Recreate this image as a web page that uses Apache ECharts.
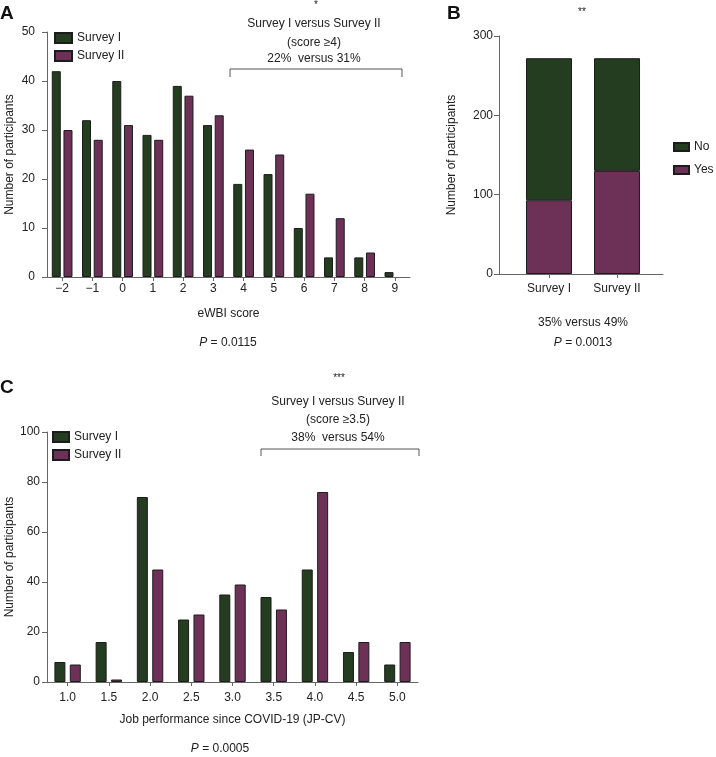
<!DOCTYPE html>
<html>
<head>
<meta charset="utf-8">
<script src="https://cdn.jsdelivr.net/npm/echarts@6/dist/echarts.min.js"></script>
<style>
html,body{margin:0;padding:0;background:#fff;}
#c{width:716px;height:757px;}
</style>
</head>
<body>
<div id="c"></div>
<script>
// ---- Data ----
const scoreCats = ['−2','−1','0','1','2','3','4','5','6','7','8','9'];
const eWBI_survey1 = [42,32,40,29,39,31,19,21,10,4,4,1];
const eWBI_survey2 = [30,28,31,28,37,33,26,25,17,12,5,null];

const surveyCats = ['Survey I','Survey II'];
const affectedYes = [93,130];
const affectedNo = [179,142];

const jpCats = ['1.0','1.5','2.0','2.5','3.0','3.5','4.0','4.5','5.0'];
const jp_survey1 = [8,16,74,25,35,34,45,12,7];
const jp_survey2 = [7,1,45,27,39,29,76,16,16];

const yTicksA = [0,10,20,30,40,50];
const yTicksB = [0,100,200,300];
const yTicksC = [0,20,40,60,80,100];

// ---- Style ----
const GREEN = '#243c1f';
const PURPLE = '#6d3158';
const EDGE = '#1c1c1c';
const AXIS = '#666';
const TXT = '#222';
const FONT = '"Liberation Sans", Arial, sans-serif';

const chart = echarts.init(document.getElementById('c'), null, {renderer:'canvas'});

function yAx(gi, ticks, nameGap, labelMargin) {
  return {
    type:'value', gridIndex:gi, min:ticks[0], max:ticks[ticks.length-1],
    interval: ticks[1]-ticks[0],
    name:'Number of participants', nameLocation:'middle', nameGap:nameGap,
    nameMoveOverlap:false,
    nameTextStyle:{color:TXT, fontSize:12, fontFamily:FONT},
    axisLine:{show:true, onZero:false, lineStyle:{color:AXIS, width:1}},
    axisTick:{show:true, length:5, lineStyle:{color:AXIS}},
    axisLabel:{color:TXT, fontSize:12, fontFamily:FONT, margin:labelMargin},
    splitLine:{show:false}
  };
}
function xCat(gi, cats, name, nameGap, labelMargin) {
  return {
    type:'category', gridIndex:gi, data:cats,
    name:name, nameLocation:'middle', nameGap:nameGap, nameMoveOverlap:false,
    nameTextStyle:{color:TXT, fontSize:12, fontFamily:FONT},
    axisLine:{show:true, lineStyle:{color:AXIS, width:1}},
    axisTick:{show:true, alignWithLabel:true, length:4, lineStyle:{color:AXIS}},
    axisLabel:{color:TXT, fontSize:12, fontFamily:FONT, margin:labelMargin},
    splitLine:{show:false}
  };
}
function barItem(c){ return {color:c, borderColor:EDGE, borderWidth:1}; }

function pText(x, y, val) {
  return {
    type:'text', x:x, y:y,
    style:{
      text:'{i|P} = ' + val,
      textAlign:'center', textVerticalAlign:'middle',
      fill:TXT, font:'12px ' + FONT,
      rich:{ i:{fontStyle:'italic', fontSize:12, fontFamily:FONT, fill:TXT} }
    }
  };
}
function txt(x, y, s, size, bold) {
  return {
    type:'text', x:x, y:y,
    style:{text:s, textAlign:'center', textVerticalAlign:'middle', fill:TXT,
      font:(bold?'bold ':'') + size + 'px ' + FONT}
  };
}
function panelLetter(x, y, s) {
  return {type:'text', x:x, y:y, style:{text:s, textAlign:'left', textVerticalAlign:'top', fill:'#111', font:'bold 19px ' + FONT}};
}
function bracket(x1, x2, yTop, yBot) {
  return {type:'polyline', shape:{points:[[x1,yBot],[x1,yTop],[x2,yTop],[x2,yBot]]},
    style:{stroke:'#555', lineWidth:1, fill:null}};
}

const option = {
  backgroundColor:'#fff',
  animation:false,
  textStyle:{fontFamily:FONT},
  grid:[
    {left:47, right:306, top:32, bottom:480, outerBoundsMode:'none', containLabel:false},
    {left:499, right:53, top:36, bottom:483, outerBoundsMode:'none', containLabel:false},
    {left:47, right:298, top:432, bottom:75, outerBoundsMode:'none', containLabel:false}
  ],
  xAxis:[
    xCat(0, scoreCats, 'eWBI score', 31, 6),
    {
      type:'value', gridIndex:1, min:-0.735, max:1.676,
      axisLine:{show:true, onZero:false, lineStyle:{color:AXIS, width:1}},
      axisTick:{show:true, length:4, customValues:[0,1], lineStyle:{color:AXIS}},
      axisLabel:{show:true, customValues:[0,1], color:TXT, fontSize:12, fontFamily:FONT, margin:9,
        formatter:function(v){ return surveyCats[Math.round(v)] || ''; }},
      splitLine:{show:false}
    },
    xCat(2, jpCats, 'Job performance since COVID-19 (JP-CV)', 32, 10)
  ],
  yAxis:[
    yAx(0, yTicksA, 31, 12),
    yAx(1, yTicksB, 41, 6),
    yAx(2, yTicksC, 31, 7)
  ],
  legend:[
    {data:['Survey I','Survey II'], left:54, top:32, orient:'vertical', padding:0,
     itemWidth:17, itemHeight:10, itemGap:6, icon:'rect',
     textStyle:{color:TXT, fontSize:12, fontFamily:FONT}, selectedMode:false},
    {data:['No','Yes'], left:673, top:141, orient:'vertical', padding:0,
     itemWidth:15, itemHeight:8, itemGap:11, icon:'rect',
     textStyle:{color:TXT, fontSize:12, fontFamily:FONT}, selectedMode:false},
    {data:['Survey I','Survey II'], left:52, top:431, orient:'vertical', padding:0,
     itemWidth:16, itemHeight:10, itemGap:6, icon:'rect',
     textStyle:{color:TXT, fontSize:12, fontFamily:FONT}, selectedMode:false}
  ],
  series:[
    {name:'Survey I', type:'bar', xAxisIndex:0, yAxisIndex:0, data:eWBI_survey1,
     barWidth:9, barGap:'30%', itemStyle:barItem(GREEN)},
    {name:'Survey II', type:'bar', xAxisIndex:0, yAxisIndex:0, data:eWBI_survey2,
     barWidth:9, barGap:'30%', itemStyle:barItem(PURPLE)},
    {name:'Yes', type:'bar', xAxisIndex:1, yAxisIndex:1, stack:'b',
     encode:{x:1, y:0},
     data:affectedYes.map(function(v,i){return [v,i];}),
     barWidth:46, itemStyle:barItem(PURPLE)},
    {name:'No', type:'bar', xAxisIndex:1, yAxisIndex:1, stack:'b',
     encode:{x:1, y:0},
     data:affectedNo.map(function(v,i){return [v,i];}),
     barWidth:46, itemStyle:barItem(GREEN)},
    {name:'Survey I', type:'bar', xAxisIndex:2, yAxisIndex:2, data:jp_survey1,
     barWidth:11, barGap:'40%', itemStyle:barItem(GREEN)},
    {name:'Survey II', type:'bar', xAxisIndex:2, yAxisIndex:2, data:jp_survey2,
     barWidth:11, barGap:'40%', itemStyle:barItem(PURPLE)}
  ],
  graphic:[
    panelLetter(0, 4, 'A'),
    panelLetter(447, 4, 'B'),
    panelLetter(0, 378, 'C'),
    // Panel A annotations
    txt(316, 5, '*', 10),
    txt(314, 24, 'Survey I versus Survey II', 12),
    txt(314, 43, '(score ≥4)', 12),
    txt(314, 59, '22%  versus 31%', 12),
    bracket(230, 402, 69, 77),
    pText(228, 343, '0.0115'),
    // Panel B annotations
    txt(582, 12, '**', 10),
    txt(583, 323, '35% versus 49%', 12),
    pText(583, 343, '0.0013'),
    // Panel C annotations
    txt(339, 378, '***', 10),
    txt(338, 402, 'Survey I versus Survey II', 12),
    txt(338, 420, '(score ≥3.5)', 12),
    txt(338, 438, '38%  versus 54%', 12),
    bracket(261, 419, 449, 456),
    pText(220, 749, '0.0005')
  ]
};
chart.setOption(option);
</script>
</body>
</html>
